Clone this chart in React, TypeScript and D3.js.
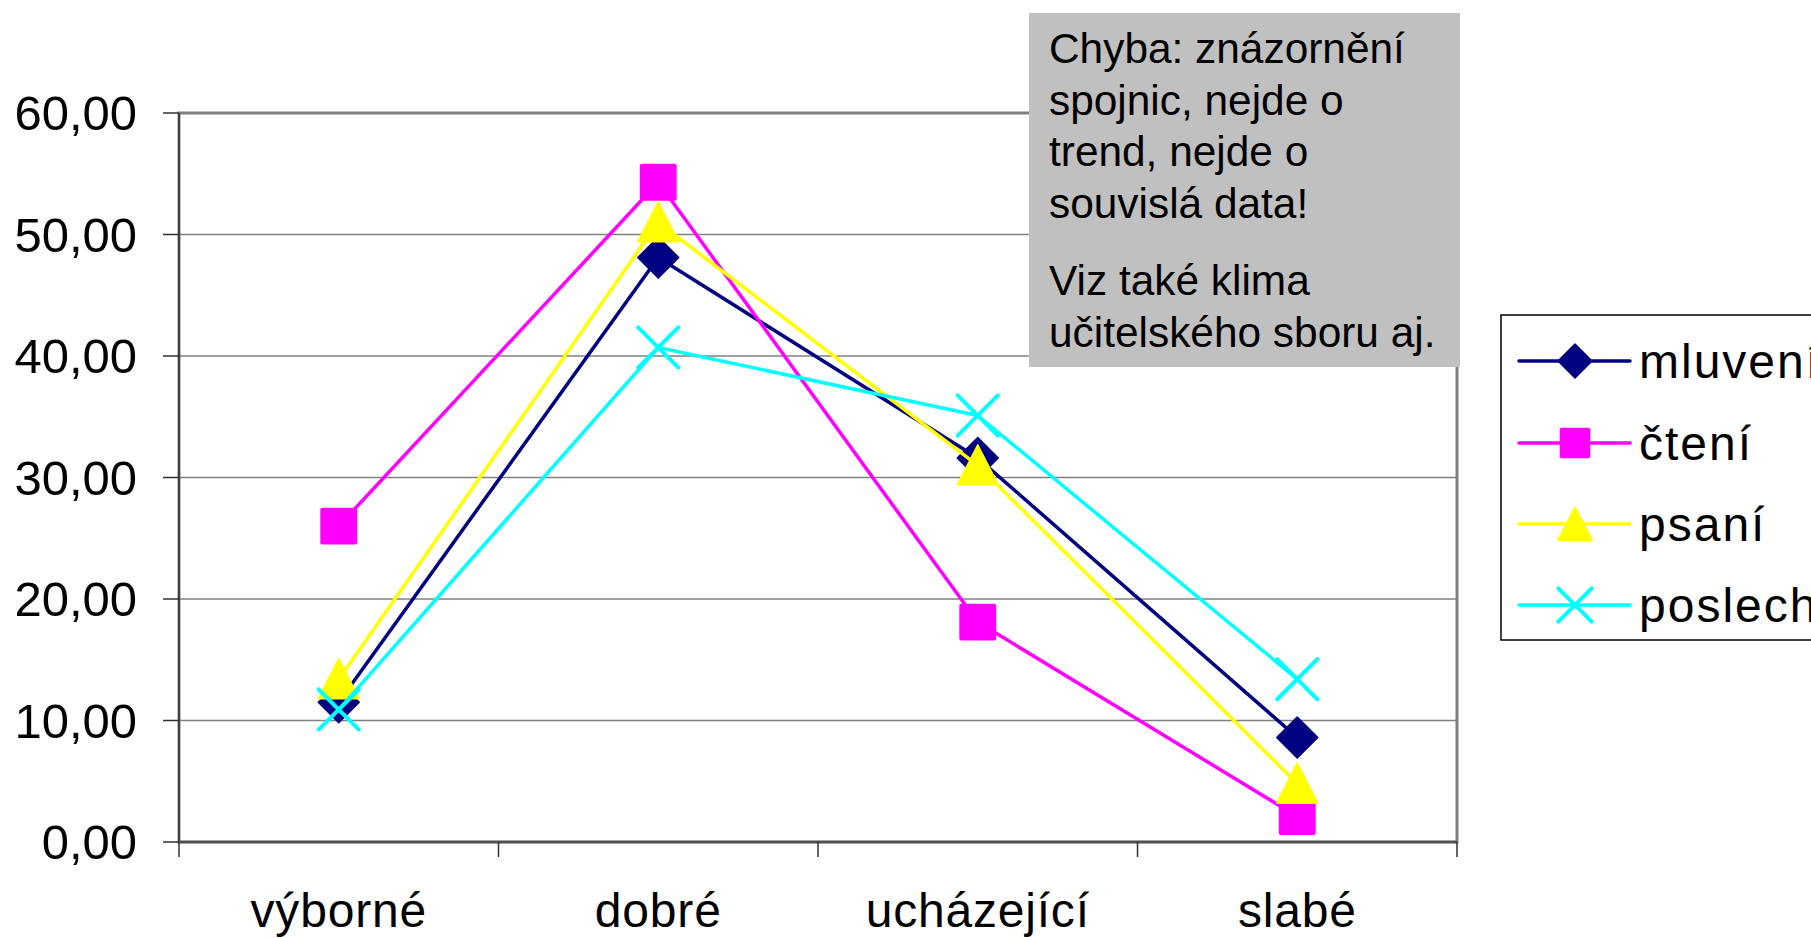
import React from "react";
import * as d3 from "d3";

const categories = ["výborné", "dobré", "ucházející", "slabé"];
const seriesNames = ["mluvení", "čtení", "psaní", "poslech"];
const mluveni = [11.5, 48.1, 31.6, 8.6];
const cteni = [26.0, 54.3, 18.1, 2.1];
const psani = [13.4, 51.0, 31.0, 4.8];
const poslech = [10.9, 40.7, 35.1, 13.4];
const yTicks = [0, 10, 20, 30, 40, 50, 60];
const noteLines1 = ["Chyba: znázornění", "spojnic, nejde o", "trend, nejde o", "souvislá data!"];
const noteLines2 = ["Viz také klima", "učitelského sboru aj."];

const colors = ["#000080", "#FF00FF", "#FFFF00", "#00FFFF"];
const markerTypes = ["diamond", "square", "triangle", "cross"];
const FONT = "'Liberation Sans', Arial, sans-serif";

function Marker({ type, x, y, s, color }: { type: string; x: number; y: number; s: number; color: string }) {
  const h = s / 2;
  if (type === "diamond") {
    return <path d={`M${x},${y - h}L${x + h},${y}L${x},${y + h}L${x - h},${y}Z`} fill={color} stroke={color} strokeWidth={1.5} strokeLinejoin="round" />;
  }
  if (type === "square") {
    const q = h * 0.9;
    return <rect x={x - q} y={y - q} width={2 * q} height={2 * q} rx={2} fill={color} />;
  }
  if (type === "triangle") {
    return <path d={`M${x},${y - h}L${x + h},${y + h * 0.95}L${x - h},${y + h * 0.95}Z`} fill={color} stroke={color} strokeWidth={1.5} strokeLinejoin="round" />;
  }
  const c = h * 0.98;
  return (
    <g stroke={color} strokeWidth={4} strokeLinecap="round">
      <line x1={x - c} y1={y - c} x2={x + c} y2={y + c} />
      <line x1={x - c} y1={y + c} x2={x + c} y2={y - c} />
    </g>
  );
}

export default function App() {
  const W = 1811, H = 938;
  const left = 179, right = 1457, top = 113, bottom = 842;
  const x = d3.scaleBand<string>().domain(categories).range([left, right]).padding(0);
  const y = d3.scaleLinear().domain([0, 60]).range([bottom, top]);
  const data = [mluveni, cteni, psani, poslech];
  const line = d3
    .line<number>()
    .x((_, i) => (x(categories[i]) as number) + x.bandwidth() / 2)
    .y((d) => y(d));
  const boundaries = categories.map((c) => x(c) as number).concat([right]);

  const legendRows = [361, 443, 524, 605];

  return (
    <svg width={W} height={H} style={{ position: "absolute", left: 0, top: 0, display: "block" }} fontFamily={FONT}>
      <rect x={0} y={0} width={W} height={H} fill="#fff" />
      {/* gridlines */}
      {yTicks.map((t) => (
        <line key={"g" + t} x1={left} x2={right} y1={y(t)} y2={y(t)} stroke="#808080" strokeWidth={1.5} />
      ))}
      {/* plot border */}
      <rect x={left} y={top} width={right - left} height={bottom - top} fill="none" stroke="#808080" strokeWidth={3} />
      {/* axes */}
      <line x1={left} x2={left} y1={top} y2={bottom} stroke="#404040" strokeWidth={2} />
      <line x1={left} x2={right} y1={bottom} y2={bottom} stroke="#505050" strokeWidth={2.5} />
      {yTicks.map((t) => (
        <g key={"yt" + t}>
          <line x1={left - 16} x2={left} y1={y(t)} y2={y(t)} stroke="#303030" strokeWidth={1.5} />
          <text x={137} y={y(t) + 17} textAnchor="end" fontSize={49} fill="#000">
            {t.toFixed(2).replace(".", ",")}
          </text>
        </g>
      ))}
      {boundaries.map((b, i) => (
        <line key={"xt" + i} x1={b} x2={b} y1={bottom} y2={bottom + 15} stroke="#303030" strokeWidth={1.5} />
      ))}
      {categories.map((c) => (
        <text key={"xl" + c} x={(x(c) as number) + x.bandwidth() / 2} y={927} textAnchor="middle" fontSize={48} letterSpacing={0.8} fill="#000">
          {c}
        </text>
      ))}
      {/* series */}
      {data.map((s, si) => (
        <g key={"s" + si}>
          <path d={line(s) || ""} fill="none" stroke={colors[si]} strokeWidth={3.5} strokeLinejoin="round" />
          {s.map((v, i) => (
            <Marker key={i} type={markerTypes[si]} x={(x(categories[i]) as number) + x.bandwidth() / 2} y={y(v)} s={41} color={colors[si]} />
          ))}
        </g>
      ))}
      {/* annotation */}
      <rect x={1029} y={13} width={431} height={354} fill="#C0C0C0" />
      {noteLines1.map((l, i) => (
        <text key={"n1" + i} x={1049} y={63 + i * 51.7} fontSize={42.4} fill="#000">
          {l}
        </text>
      ))}
      {noteLines2.map((l, i) => (
        <text key={"n2" + i} x={1049} y={295 + i * 52} fontSize={42.4} fill="#000">
          {l}
        </text>
      ))}
      {/* legend */}
      <rect x={1501} y={315} width={400} height={325} fill="#fff" stroke="#000" strokeWidth={1.5} />
      {seriesNames.map((n, i) => (
        <g key={"lg" + i}>
          <line x1={1519} x2={1630} y1={legendRows[i]} y2={legendRows[i]} stroke={colors[i]} strokeWidth={3.5} strokeLinecap="round" />
          <Marker type={markerTypes[i]} x={1575} y={legendRows[i]} s={34} color={colors[i]} />
          <text x={1639} y={legendRows[i] + 17} fontSize={48} letterSpacing={2} fill="#000">
            {n}
          </text>
        </g>
      ))}
    </svg>
  );
}
